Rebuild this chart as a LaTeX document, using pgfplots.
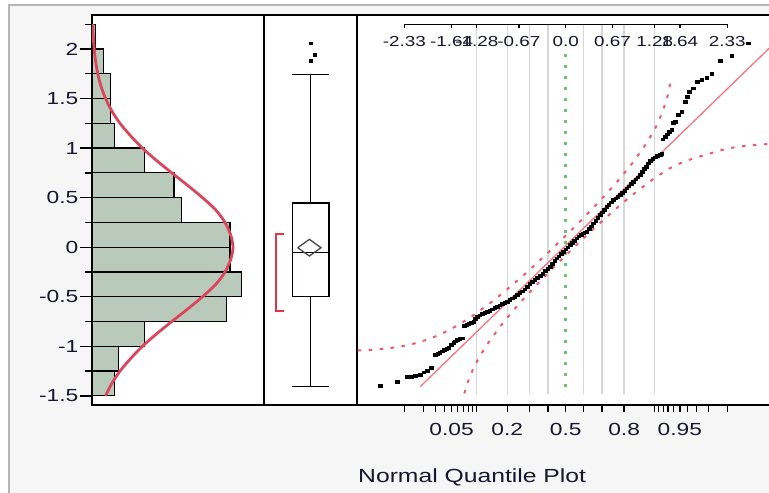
\documentclass[border=0pt]{standalone}
\usepackage{pgfplots}
\pgfplotsset{compat=1.18}
\usepackage{pgfplotstable}
\usepgfplotslibrary{statistics}
\usepackage{fontspec}
\setmainfont{Liberation Sans}
\newfontfamily\jmpfont[FakeStretch=1.3]{Liberation Sans}

\definecolor{panelbg}{RGB}{246,246,246}
\definecolor{edgegrey}{RGB}{182,182,182}
\definecolor{labelink}{RGB}{22,22,48}
\definecolor{barfill}{RGB}{186,202,186}
\definecolor{curvered}{RGB}{218,70,92}
\definecolor{fitred}{RGB}{242,118,126}
\definecolor{bandred}{RGB}{236,92,108}
\definecolor{refgreen}{RGB}{112,196,112}
\definecolor{gridgrey}{RGB}{214,214,214}
\definecolor{diamondgrey}{RGB}{70,70,70}
\definecolor{bracketred}{RGB}{226,52,70}

\newcommand{\labfont}[1]{\jmpfont\fontsize{#1}{#1}\selectfont}

% histogram: bin midpoint and count (bin width 0.25)
\pgfplotstableread{
mid count
-1.375 6
-1.125 7
-0.875 14
-0.625 36
-0.375 40
-0.125 37
0.125 37
0.375 24
0.625 22
0.875 14
1.125 6
1.375 5
1.625 5
1.875 3
2.125 1
}\histdata

% fitted normal density, in counts per bin
\pgfplotstableread{
count value
3.65 -1.5
5.31 -1.375
7.51 -1.25
10.32 -1.125
13.54 -1.0
17.29 -0.875
21.39 -0.75
25.60 -0.625
29.62 -0.5
33.19 -0.375
35.66 -0.25
37.16 -0.125
37.80 0
37.16 0.125
35.66 0.25
33.19 0.375
29.62 0.5
25.60 0.625
21.39 0.75
17.29 0.875
13.54 1.0
10.32 1.125
7.51 1.25
5.31 1.375
3.65 1.5
2.41 1.625
1.55 1.75
0.97 1.875
0.59 2.0
0.35 2.125
0.21 2.25
}\normalcurve

% normal quantile plot: normal quantile, ordered value
\pgfplotstableread{
q v
-2.670 -1.399
-2.430 -1.359
-2.287 -1.308
-2.227 -1.306
-2.167 -1.300
-2.095 -1.288
-2.045 -1.262
-1.999 -1.245
-1.941 -1.215
-1.879 -1.087
-1.845 -1.075
-1.816 -1.063
-1.782 -1.050
-1.749 -1.036
-1.717 -1.025
-1.686 -1.013
-1.650 -0.985
-1.614 -0.962
-1.590 -0.948
-1.566 -0.935
-1.528 -0.925
-1.494 -0.918
-1.461 -0.794
-1.430 -0.785
-1.398 -0.774
-1.362 -0.762
-1.326 -0.751
-1.302 -0.725
-1.278 -0.700
-1.242 -0.687
-1.206 -0.673
-1.170 -0.661
-1.134 -0.650
-1.098 -0.638
-1.062 -0.626
-1.026 -0.612
-0.990 -0.599
-0.954 -0.585
-0.918 -0.572
-0.882 -0.560
-0.846 -0.549
-0.810 -0.532
-0.774 -0.515
-0.738 -0.498
-0.702 -0.481
-0.666 -0.462
-0.630 -0.444
-0.594 -0.425
-0.558 -0.400
-0.522 -0.370
-0.486 -0.348
-0.450 -0.330
-0.410 -0.310
-0.370 -0.290
-0.334 -0.265
-0.298 -0.240
-0.262 -0.215
-0.226 -0.196
-0.194 -0.165
-0.162 -0.138
-0.130 -0.111
-0.098 -0.090
-0.066 -0.067
-0.034 -0.045
-0.002 -0.020
0.030 0.000
0.062 0.023
0.094 0.045
0.126 0.068
0.159 0.090
0.190 0.110
0.220 0.125
0.250 0.140
0.280 0.150
0.303 0.157
0.335 0.185
0.366 0.213
0.398 0.242
0.430 0.270
0.462 0.298
0.494 0.326
0.526 0.354
0.558 0.381
0.591 0.409
0.622 0.431
0.654 0.454
0.686 0.477
0.718 0.494
0.750 0.510
0.782 0.527
0.815 0.550
0.847 0.572
0.879 0.595
0.911 0.617
0.943 0.640
0.974 0.662
1.006 0.685
1.039 0.707
1.071 0.729
1.100 0.760
1.130 0.790
1.160 0.815
1.190 0.847
1.220 0.875
1.250 0.895
1.287 0.907
1.320 0.920
1.359 0.930
1.383 0.945
1.395 1.089
1.431 1.115
1.465 1.140
1.493 1.166
1.527 1.183
1.551 1.257
1.575 1.267
1.622 1.334
1.671 1.368
1.719 1.468
1.750 1.520
1.781 1.569
1.839 1.604
1.896 1.670
1.960 1.687
2.032 1.711
2.104 1.748
2.223 1.879
2.392 1.932
2.630 2.060
}\qqdata

% Lilliefors confidence bounds
\pgfplotstableread{
q v
-3.156 -1.046
-3.011 -1.043
-2.878 -1.039
-2.748 -1.033
-2.576 -1.022
-2.432 -1.008
-2.326 -0.995
-2.170 -0.970
-2.054 -0.946
-1.881 -0.902
-1.751 -0.861
-1.645 -0.823
-1.476 -0.754
-1.2816 -0.664
-1.080 -0.559
-0.915 -0.467
-0.772 -0.383
-0.583 -0.267
-0.385 -0.141
-0.202 -0.020
0 0.116
0.202 0.257
0.385 0.389
0.583 0.536
0.772 0.686
0.954 0.843
1.126 1.009
1.2265 1.121
1.2816 1.190
1.341 1.275
1.405 1.385
1.461 1.509
1.476 1.550
1.510 1.668
}\bandupper

\pgfplotstableread{
q v
-1.461 -1.475
-1.405 -1.351
-1.341 -1.241
-1.2816 -1.156
-1.2265 -1.087
-1.126 -0.975
-0.954 -0.809
-0.772 -0.652
-0.583 -0.502
-0.385 -0.355
-0.202 -0.223
0 -0.082
0.202 0.054
0.385 0.175
0.583 0.301
0.772 0.417
0.915 0.501
1.080 0.593
1.2816 0.698
1.476 0.788
1.645 0.845
1.751 0.875
1.881 0.905
2.054 0.940
2.170 0.965
2.326 0.995
2.432 1.008
2.576 1.022
2.748 1.033
2.878 1.039
3.011 1.043
3.156 1.046
}\bandlower

\pgfplotsset{
  jmp panel/.style={
    scale only axis,
    anchor=south west,
    height=390bp,
    ymin=-1.5923, ymax=2.3431,
    axis line style={line width=1.3bp, black},
    axis background/.style={fill=white},
  },
}

\begin{document}
\begin{tikzpicture}
\path[use as bounding box] (0bp,0bp) rectangle (769bp,493bp);
\clip (0bp,0bp) rectangle (769bp,493bp);
\fill[white] (0bp,0bp) rectangle (769bp,493bp);
\fill[panelbg] (9bp,0bp) rectangle (769bp,488bp);
\draw[edgegrey, line width=1.6bp] (9bp,0bp) -- (9bp,488bp) -- (769bp,488bp);

% histogram with fitted normal
\begin{axis}[jmp panel,
  at={(92bp,88bp)}, width=172bp,
  xmin=0, xmax=46.11,
  xtick=\empty,
  ytick={-1.5,-1,-0.5,0,0.5,1,1.5,2},
  yticklabels={-1.5,-1,-0.5,0,0.5,1,1.5,2},
  minor ytick={-1.25,-0.75,-0.25,0.25,0.75,1.25,1.75,2.25},
  ytick pos=left, tick align=outside,
  major tick length=12bp, minor tick length=7bp,
  tick style={line width=1.3bp, black},
  yticklabel style={font=\labfont{17.5bp}, text=labelink, inner sep=0pt, xshift=-1.5bp},
]
\addplot[xbar, bar width=0.25, bar shift=0pt, fill=barfill, draw=black, line width=1.2bp]
  table[x=count, y=mid] {\histdata};
\addplot[curvered, line width=2.8bp, smooth] table[x=count, y=value] {\normalcurve};
\end{axis}

% outlier box plot
\begin{axis}[jmp panel,
  at={(264bp,88bp)}, width=93bp,
  xmin=264, xmax=357,
  xtick=\empty, ytick=\empty,
]
\addplot[black, line width=1.3bp,
  boxplot prepared={draw direction=y, draw position=310.65,
    lower whisker=-1.407, lower quartile=-0.495, median=-0.052,
    upper quartile=0.446, upper whisker=1.74,
    box extend=36.7, whisker extend=37.3}] coordinates {};
\addplot[diamondgrey, line width=1.3bp]
  coordinates {(297.7,-0.005) (309.35,0.079) (321,-0.005) (309.35,-0.089) (297.7,-0.005)};
\addplot[bracketred, line width=1.5bp]
  coordinates {(284,0.131) (276,0.131) (276,-0.643) (284,-0.643)};
\addplot[only marks, mark=square*, mark size=1.3bp, black, mark options={xscale=1.3}]
  coordinates {(310.7,2.06) (315,1.94) (310.7,1.88)};
\end{axis}

% normal quantile plot
\begin{axis}[jmp panel,
  at={(357bp,88bp)}, width=423bp,
  xmin=-3.0072, xmax=3.0879,
  ytick=\empty,
  xtick={-2.3263,-2.0537,-1.8808,-1.7507,-1.6449,-1.5548,-1.4758,-1.4051,-1.3408,
         -1.2816,-0.8416,-0.5244,-0.2533,0,0.2533,0.5244,0.8416,1.2816,
         1.3408,1.4051,1.4758,1.5548,1.6449,1.7507,1.8808,2.0537,2.3263},
  xticklabels={,,,,0.05,,,,,,0.2,,,0.5,,,0.8,,,,,,0.95,,,,},
  xtick pos=left, tick align=outside, major tick length=6.7bp,
  tick style={line width=1.3bp, black},
  xticklabel style={font=\labfont{17.5bp}, text=labelink, inner sep=0pt, yshift=-11.5bp},
]
\pgfplotsinvokeforeach{-1.2816,-0.8416,-0.5244,-0.2533,0.2533,0.5244,0.8416,1.2816}{
  \draw[gridgrey, line width=1.3bp] (axis cs:#1,-1.48) -- (axis cs:#1,2.249);
}
\addplot[refgreen, line width=2.6bp, dash pattern=on 2.6bp off 8.4bp]
  coordinates {(0,-1.406) (0,1.99)};
\addplot[bandred, line width=2bp, dash pattern=on 3.5bp off 7.5bp] table[x=q, y=v] {\bandupper};
\addplot[bandred, line width=2bp, dash pattern=on 3.5bp off 7.5bp] table[x=q, y=v] {\bandlower};
\addplot[fitred, line width=1.3bp] coordinates {(-2.095,-1.406) (3.01,2.061)};
% quantile scale along the top
\draw[black, line width=1.3bp] (axis cs:-2.3263,2.249) -- (axis cs:2.3263,2.249);
\pgfplotsinvokeforeach{-2.3263,-1.6449,-1.2816,-0.6745,0,0.6745,1.2816,1.6449,2.3263}{
  \draw[black, line width=1.3bp] (axis cs:#1,2.249) -- (axis cs:#1,2.2087);
}
\begin{scope}[every node/.style={font=\labfont{14.5bp}, text=labelink, inner sep=0pt}]
\node at (axis cs:-2.3263,2.0787) {-2.33};
\node at (axis cs:-1.6449,2.0787) {-1.64};
\node at (axis cs:-1.2816,2.0787) {-1.28};
\node at (axis cs:-0.6745,2.0787) {-0.67};
\node at (axis cs:0,2.0787) {0.0};
\node at (axis cs:0.6745,2.0787) {0.67};
\node at (axis cs:1.2816,2.0787) {1.28};
\node at (axis cs:1.6449,2.0787) {1.64};
\node at (axis cs:2.3263,2.0787) {2.33};
\end{scope}
\addplot[only marks, mark=square*, mark size=1.35bp, black, mark options={xscale=1.3}]
  table[x=q, y=v] {\qqdata};
\end{axis}

\node[anchor=west, inner sep=0pt, text=labelink, font=\labfont{19bp}] at (358bp,16bp) {Normal Quantile Plot};
\end{tikzpicture}
\end{document}
